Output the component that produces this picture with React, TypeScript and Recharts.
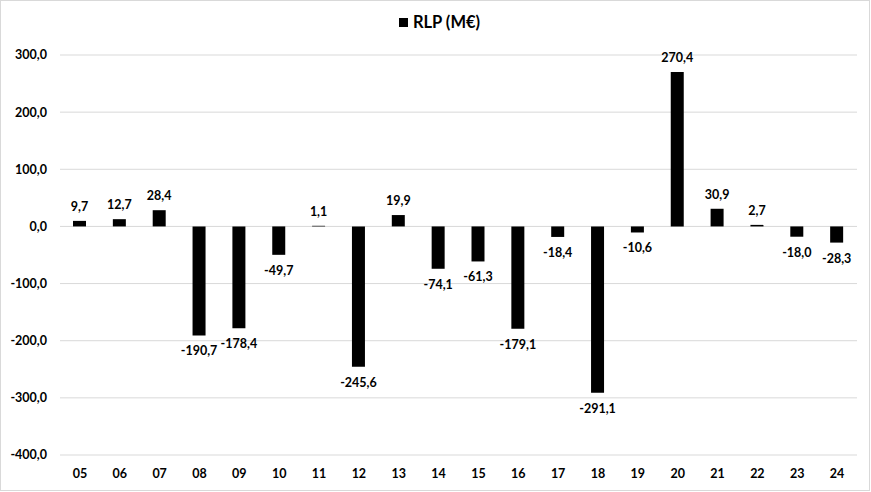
import React from 'react';
import { BarChart, Bar, XAxis, YAxis, CartesianGrid, LabelList, Legend } from 'recharts';

const categories = ['05', '06', '07', '08', '09', '10', '11', '12', '13', '14', '15', '16', '17', '18', '19', '20', '21', '22', '23', '24'];
const rlpValues = [9.7, 12.7, 28.4, -190.7, -178.4, -49.7, 1.1, -245.6, 19.9, -74.1, -61.3, -179.1, -18.4, -291.1, -10.6, 270.4, 30.9, 2.7, -18.0, -28.3];
const yTicks = [-400, -300, -200, -100, 0, 100, 200, 300];
const seriesName = 'RLP (M€)';

const data = categories.map((c, i) => ({ year: c, rlp: rlpValues[i] }));

const FONT = 'Lato, "Open Sans", sans-serif';
const fmt = (v: number) => v.toFixed(1).replace('.', ',');

const renderLabel = (props: any) => {
  const { x, y, width, height, value } = props;
  const top = Math.min(y, y + height);
  const bottom = Math.max(y, y + height);
  const cx = x + width / 2;
  if (value >= 0) {
    return (
      <text x={cx} y={top - 10} textAnchor="middle" fill="#000" fontFamily={FONT} fontWeight={700} fontSize={12.5}>
        {fmt(value)}
      </text>
    );
  }
  return (
    <text x={cx} y={bottom + 20} textAnchor="middle" fill="#000" fontFamily={FONT} fontWeight={700} fontSize={12.5}>
      {fmt(value)}
    </text>
  );
};

const renderLegend = () => (
  <div style={{ display: 'flex', justifyContent: 'center', alignItems: 'center', paddingLeft: 8, fontFamily: FONT, fontWeight: 700, fontSize: 16.5, color: '#000' }}>
    <span style={{ display: 'inline-block', width: 9, height: 9, background: '#000', marginRight: 5 }} />
    <span>{seriesName}</span>
  </div>
);

export default function App() {
  return (
    <div style={{ position: 'absolute', left: 0, top: 0, width: 871, height: 492, background: '#fff' }}>
      <div style={{ position: 'absolute', left: 0, top: 0, width: 870, height: 491, border: '1px solid #d9d9d9', boxSizing: 'border-box' }} />
      <BarChart
        width={871}
        height={492}
        data={data}
        margin={{ top: 55, right: 14, bottom: 7, left: 0 }}
        barSize={13}
      >
        <CartesianGrid vertical={false} stroke="#d9d9d9" strokeWidth={1} />
        <XAxis
          dataKey="year"
          axisLine={false}
          tickLine={false}
          tickSize={0}
          tickMargin={14}
          height={30}
          interval={0}
          tick={{ fill: '#000', fontFamily: FONT, fontWeight: 700, fontSize: 12.5 }}
        />
        <YAxis
          domain={[-400, 300]}
          ticks={yTicks}
          axisLine={false}
          tickLine={false}
          tickSize={0}
          tickMargin={13}
          width={60}
          interval={0}
          tickFormatter={fmt}
          tick={{ fill: '#000', fontFamily: FONT, fontWeight: 700, fontSize: 12.5 }}
        />
        <Legend
          layout="vertical"
          verticalAlign="middle"
          align="center"
          wrapperStyle={{ top: 12, left: 0, width: 871 }}
          content={renderLegend}
        />
        <Bar dataKey="rlp" name={seriesName} fill="#000" isAnimationActive={false}>
          <LabelList dataKey="rlp" content={renderLabel} />
        </Bar>
      </BarChart>
    </div>
  );
}
